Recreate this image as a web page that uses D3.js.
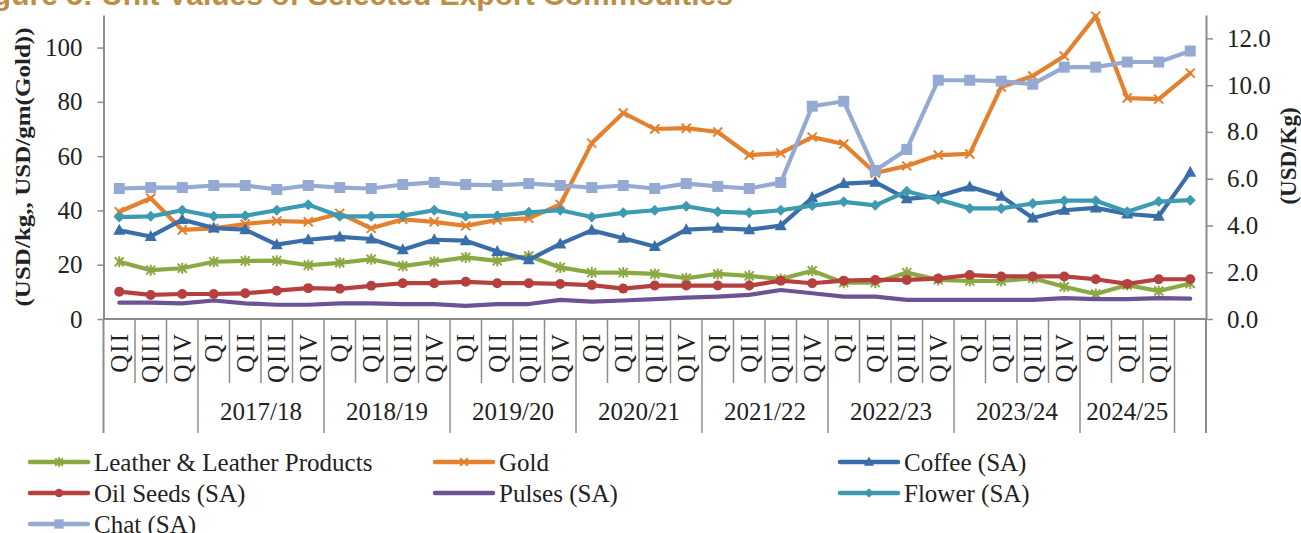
<!DOCTYPE html>
<html><head><meta charset="utf-8">
<script src="https://cdn.jsdelivr.net/npm/d3@7"></script>
<style>
html,body{margin:0;padding:0;background:#fff;}
svg{display:block;}
text{font-family:"Liberation Serif","Times New Roman",serif;fill:#222;}
</style></head><body>
<svg id="chart" width="1301" height="533"></svg>
<script>
// ---------- DATA ----------
const quarterLabels = ["QII","QIII","QIV",
  "QI","QII","QIII","QIV", "QI","QII","QIII","QIV", "QI","QII","QIII","QIV",
  "QI","QII","QIII","QIV", "QI","QII","QIII","QIV", "QI","QII","QIII","QIV",
  "QI","QII","QIII","QIV", "QI","QII","QIII",""];
const yearLabels = ["","2017/18","2018/19","2019/20","2020/21","2021/22","2022/23","2023/24","2024/25",""];
const yearSpans  = [3,4,4,4,4,4,4,4,3,1];

const leather = [21.1,18.0,18.7,21.1,21.4,21.5,19.8,20.7,22.0,19.5,21.1,22.7,21.4,23.2,19.0,17.1,17.1,16.6,15.0,16.6,15.9,14.7,17.8,13.4,13.4,17.1,14.4,14.0,14.0,15.0,11.9,9.2,12.5,10.3,13.1];
const gold    = [39.5,44.5,32.8,33.4,35.0,36.1,35.8,38.9,33.4,36.7,35.8,34.3,36.5,37.1,42.2,64.8,75.9,70.0,70.3,68.9,60.4,61.1,67.0,64.5,53.8,56.4,60.4,60.8,85.5,89.5,96.9,111.6,81.4,81.0,90.6];
const coffee  = [3.79,3.53,4.25,3.89,3.82,3.18,3.39,3.51,3.42,2.96,3.39,3.35,2.89,2.53,3.21,3.79,3.45,3.10,3.82,3.88,3.82,3.99,5.18,5.79,5.85,5.14,5.25,5.65,5.25,4.32,4.65,4.75,4.49,4.39,6.28];
const oilSeeds= [1.17,1.03,1.07,1.07,1.10,1.21,1.32,1.29,1.42,1.53,1.53,1.59,1.53,1.53,1.50,1.45,1.30,1.43,1.43,1.43,1.43,1.64,1.53,1.64,1.67,1.67,1.73,1.88,1.82,1.82,1.82,1.70,1.50,1.70,1.70];
const pulses  = [0.70,0.70,0.67,0.79,0.67,0.61,0.61,0.67,0.67,0.64,0.64,0.56,0.64,0.64,0.82,0.74,0.79,0.85,0.91,0.96,1.03,1.24,1.10,0.96,0.96,0.82,0.82,0.82,0.82,0.82,0.89,0.85,0.85,0.89,0.87];
const flower  = [4.36,4.39,4.65,4.39,4.42,4.65,4.89,4.39,4.39,4.42,4.65,4.39,4.42,4.56,4.65,4.36,4.54,4.65,4.82,4.59,4.54,4.65,4.85,5.01,4.86,5.46,5.11,4.73,4.73,4.94,5.06,5.06,4.59,5.02,5.08];
const chat    = [5.58,5.62,5.62,5.71,5.71,5.54,5.71,5.62,5.58,5.75,5.84,5.75,5.71,5.79,5.71,5.62,5.71,5.58,5.79,5.67,5.58,5.84,9.10,9.31,6.35,7.25,10.21,10.21,10.17,10.04,10.77,10.77,10.99,10.99,11.46];

const leftTicks  = [0,20,40,60,80,100];
const rightTicks = [0,2,4,6,8,10,12];

const seriesList = [
  {name:"Leather & Leather Products", values:leather, axis:"L", color:"#8BA942", marker:"star"},
  {name:"Gold",          values:gold,     axis:"L", color:"#E3812F", marker:"x"},
  {name:"Coffee (SA)",   values:coffee,   axis:"R", color:"#3A6EA8", marker:"triangle"},
  {name:"Oil Seeds (SA)",values:oilSeeds, axis:"R", color:"#B5403E", marker:"circle"},
  {name:"Pulses (SA)",   values:pulses,   axis:"R", color:"#6D5395", marker:"none"},
  {name:"Flower (SA)",   values:flower,   axis:"R", color:"#3D9AB1", marker:"diamond"},
  {name:"Chat (SA)",     values:chat,     axis:"R", color:"#94AAD3", marker:"square"}
];

// ---------- LAYOUT ----------
const svg = d3.select("#chart");
const X0 = 103.5, X1 = 1206, Y0 = 319, Y1 = 15;
const axisColor = "#8c8c8c";

const x = d3.scaleBand().domain(d3.range(quarterLabels.length)).range([X0, X1]).paddingInner(0).paddingOuter(0);
const bw = x.bandwidth();
const yL = d3.scaleLinear().domain([0,112]).range([Y0,Y1]);
const yR = d3.scaleLinear().domain([0,13]).range([Y0,Y1]);

// Title (cropped at the top edge, as in the reference)
svg.append("text").attr("x",733).attr("y",5).attr("text-anchor","end")
  .style("font-family","'Liberation Sans',Arial,sans-serif").style("font-weight","bold")
  .style("font-size","30px").style("fill","#BD8E46")
  .text("Figure 5: Unit Values of Selected Export Commodities");

// Left axis
const gL = svg.append("g").attr("transform",`translate(${X0},0)`)
  .call(d3.axisLeft(yL).tickValues(leftTicks).tickSize(6).tickSizeOuter(0).tickPadding(15));
gL.select(".domain").attr("stroke",axisColor).attr("stroke-width",2);
gL.selectAll(".tick line").attr("stroke",axisColor).attr("stroke-width",1.5);
gL.selectAll(".tick text").style("font-family","'Liberation Serif',serif").style("font-size","25px").attr("fill","#222");

// Right axis
const gR = svg.append("g").attr("transform",`translate(${X1},0)`)
  .call(d3.axisRight(yR).tickValues(rightTicks).tickFormat(d3.format(".1f")).tickSize(7).tickSizeOuter(0).tickPadding(14));
gR.select(".domain").attr("stroke",axisColor).attr("stroke-width",2);
gR.selectAll(".tick line").attr("stroke",axisColor).attr("stroke-width",1.5);
gR.selectAll(".tick text").style("font-family","'Liberation Serif',serif").style("font-size","25px").attr("fill","#222");

// Axis titles
svg.append("text").attr("transform","translate(22,167) rotate(-90)")
  .attr("text-anchor","middle").attr("dominant-baseline","central")
  .style("font-weight","bold").style("font-size","22px")
  .attr("textLength",279).attr("lengthAdjust","spacingAndGlyphs")
  .text("(USD/kg,, USD/gm(Gold))");
svg.append("text").attr("transform","translate(1288,156) rotate(-90)")
  .attr("text-anchor","middle").attr("dominant-baseline","central")
  .style("font-weight","bold").style("font-size","23px")
  .text("(USD/Kg)");

// X axis line and dividers
const gx = svg.append("g");
gx.append("line").attr("x1",X0).attr("x2",X1).attr("y1",Y0).attr("y2",Y0)
  .attr("stroke",axisColor).attr("stroke-width",2);
const groupBounds = new Set([0]);
let acc = 0; yearSpans.forEach(s => { acc += s; groupBounds.add(acc); });
d3.range(quarterLabels.length + 1).forEach(k => {
  const xx = k < quarterLabels.length ? x(k) : X1;
  gx.append("line").attr("x1",xx).attr("x2",xx).attr("y1",Y0)
    .attr("y2", groupBounds.has(k) ? 433 : 383)
    .attr("stroke",axisColor).attr("stroke-width", (k===0||k===quarterLabels.length)?2:1.5);
});
quarterLabels.forEach((q,i) => {
  if (!q) return;
  gx.append("text").attr("transform",`translate(${x(i)+bw/2},332) rotate(-90)`)
    .attr("text-anchor","end").attr("dominant-baseline","central")
    .style("font-size","25px").style("letter-spacing","2px").text(q);
});
acc = 0;
yearLabels.forEach((yl,gi) => {
  const start = acc, span = yearSpans[gi]; acc += span;
  if (!yl) return;
  const cx = x(start) + span*bw/2;
  gx.append("text").attr("x",cx).attr("y",420).attr("text-anchor","middle")
    .style("font-size","25px").text(yl);
});

// ---------- MARKERS ----------
function drawMarker(g, type, color, cx, cy, s) {
  s = s || 1;
  if (type === "square") {
    g.append("rect").attr("x",cx-5.5*s).attr("y",cy-5.5*s).attr("width",11*s).attr("height",11*s).attr("fill",color);
  } else if (type === "circle") {
    g.append("circle").attr("cx",cx).attr("cy",cy).attr("r",5*s).attr("fill",color);
  } else if (type === "triangle") {
    g.append("path").attr("d",`M${cx},${cy-6.5*s}L${cx+6*s},${cy+4.5*s}L${cx-6*s},${cy+4.5*s}Z`).attr("fill",color);
  } else if (type === "diamond") {
    g.append("path").attr("d",`M${cx},${cy-5.5*s}L${cx+5.5*s},${cy}L${cx},${cy+5.5*s}L${cx-5.5*s},${cy}Z`).attr("fill",color);
  } else if (type === "x" || type === "star") {
    const r = 4.5*s;
    g.append("path").attr("d",`M${cx-r},${cy-r}L${cx+r},${cy+r}M${cx-r},${cy+r}L${cx+r},${cy-r}` + (type==="star" ? `M${cx},${cy-r-1}L${cx},${cy+r+1}` : ""))
      .attr("stroke",color).attr("stroke-width",2).attr("fill","none");
  }
}

// ---------- SERIES ----------
const plot = svg.append("g");
seriesList.forEach(s => {
  const ys = s.axis === "L" ? yL : yR;
  const line = d3.line().x((d,i) => x(i)+bw/2).y(d => ys(d));
  const g = plot.append("g");
  g.append("path").datum(s.values).attr("d",line).attr("fill","none")
    .attr("stroke",s.color).attr("stroke-width",4.2).attr("stroke-linejoin","round").attr("stroke-linecap","round");
  s.values.forEach((v,i) => drawMarker(g, s.marker, s.color, x(i)+bw/2, ys(v), 1));
});

// ---------- LEGEND ----------
const legendCols = [30, 435, 840];
const legendRows = [462, 493, 524];
const leg = svg.append("g");
seriesList.forEach((s,i) => {
  const lx = legendCols[i % 3], ly = legendRows[Math.floor(i/3)];
  leg.append("line").attr("x1",lx).attr("x2",lx+58).attr("y1",ly).attr("y2",ly)
    .attr("stroke",s.color).attr("stroke-width",4.5).attr("stroke-linecap","round");
  drawMarker(leg, s.marker, s.color, lx+29, ly, 0.85);
  leg.append("text").attr("x",lx+64).attr("y",ly+8.5).style("font-size","25px").text(s.name);
});
</script>
</body></html>
